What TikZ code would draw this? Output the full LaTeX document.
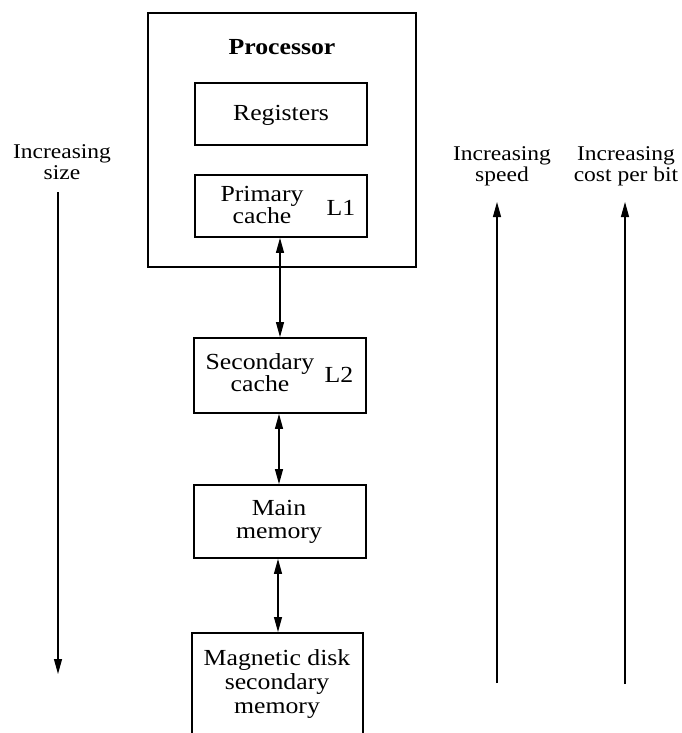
\documentclass[tikz,border=0pt]{standalone}
\usepackage{fontspec}
\setmainfont{Liberation Serif}[FakeStretch=1.12]
\usetikzlibrary{arrows.meta}
\begin{document}
\begin{tikzpicture}[x=1pt,y=-1pt,
  box/.style={draw,line width=1.8pt,minimum width=172pt,inner sep=0pt,align=center},
  lbl/.style={inner sep=0pt,align=center,font=\fontsize{23}{20}\selectfont},
  side/.style={inner sep=0pt,align=center,font=\fontsize{21}{21}\selectfont},
  link/.style={line width=1.1pt,{Triangle[length=15pt,width=8pt]}-{Triangle[length=15pt,width=8pt]}},
  trend/.style={line width=1.1pt,-{Triangle[length=15pt,width=8pt]}}]
\clip (0,0) rectangle (681,733);
\fill[white] (0,0) rectangle (681,733);

% processor enclosure with its two inner units
\node[draw,line width=1.8pt,minimum width=268pt,minimum height=254pt,inner sep=0pt,anchor=north west]
  (proc) at (147,12) {};
\node[font=\fontsize{23}{23}\selectfont\bfseries,inner sep=0pt] (proctitle) at (282,47) {Processor};
\node[box,minimum height=62pt] (reg) at (281,114) {};
\node[lbl] (regtext) at (281,115) {Registers};
\node[box,minimum height=62pt] (l1) at (281,206) {};
\node[lbl] (l1text) at (262,205) {Primary\\cache};
\node[lbl] (l1tag) at (341,208) {L1};

% levels outside the processor
\node[box,minimum height=75pt] (l2) at (280,375.5) {};
\node[lbl] (l2text) at (260,373) {Secondary\\cache};
\node[lbl] (l2tag) at (339,375) {L2};
\node[box,minimum height=73pt] (mem) at (280,521.5) {};
\node[lbl,font=\fontsize{23}{23}\selectfont] (memtext) at (279,522) {Main\\memory};
\node[box,minimum width=171pt,minimum height=160pt,anchor=north] (disk) at (277.5,632) {};
\node[lbl,font=\fontsize{23}{24}\selectfont] (disktext) at (277,684) {Magnetic disk\\secondary\\memory};

% transfers between adjacent levels
\draw[link] (l1.south -| 280,0) -- (l2.north -| 280,0);
\draw[link] (l2.south -| 279,0) -- (mem.north -| 279,0);
\draw[link] (mem.south -| 278,0) -- (disk.north -| 278,0);

% trend arrows
\node[side] (sizelbl) at (62,162) {Increasing\\size};
\coordinate (sizeA) at (58,192);
\coordinate (sizeB) at (58,674);
\draw[trend] (sizeA) -- (sizeB);

\node[side] (speedlbl) at (502,166) {Increasing\\speed};
\coordinate (speedA) at (497,683);
\coordinate (speedB) at (497,202);
\draw[trend] (speedA) -- (speedB);

\node[side] (costlbl) at (626,166) {Increasing\\cost per bit};
\coordinate (costA) at (625,684);
\coordinate (costB) at (625,202);
\draw[trend] (costA) -- (costB);
\end{tikzpicture}
\end{document}
